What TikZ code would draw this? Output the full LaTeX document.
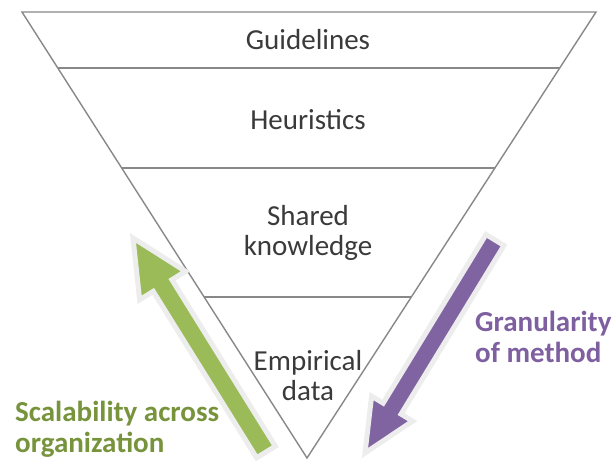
\documentclass[tikz,border=0pt]{standalone}
\usepackage{fontspec}
\setmainfont{Carlito}
\usetikzlibrary{calc}
\definecolor{edgegray}{HTML}{888888}
\definecolor{txtgray}{HTML}{3A3A3A}
\definecolor{arrgreen}{HTML}{9BBB59}
\definecolor{txtgreen}{HTML}{77933C}
\definecolor{arrpurple}{HTML}{8064A2}
\definecolor{txtpurple}{HTML}{7E5FA0}
\tikzset{
  layer/.style={draw=edgegray, line width=1.4pt},
  lbl/.style={text=txtgray, font=\fontsize{29}{30}\selectfont, inner sep=0pt, align=center},
  sidelbl/.style={font=\bfseries\fontsize{29}{31}\selectfont, inner sep=0pt, align=left, anchor=base west},
  blockarrow/.style={draw=black!7, line width=5pt, line join=miter},
}
\begin{document}
\begin{tikzpicture}[x=1pt,y=-1pt]
\useasboundingbox (0,0) rectangle (615,465);
\fill[white] (0,0) rectangle (615,465);
% triangle
\coordinate (TL) at (22,12);
\coordinate (TR) at (596,12);
\coordinate (AP) at (307,458);
\draw[layer, line join=miter] (TL) -- (TR) -- (AP) -- cycle;
\draw[layer] ($(TL)!0.1256!(AP)$) -- ($(TR)!0.1256!(AP)$);
\draw[layer] ($(TL)!0.3498!(AP)$) -- ($(TR)!0.3498!(AP)$);
\draw[layer] ($(TL)!0.639!(AP)$) -- ($(TR)!0.639!(AP)$);
% labels
\node[lbl] (guid) at (308,40) {Guidelines};
\node[lbl] (heur) at (308,120) {Heuristics};
\node[lbl, anchor=base] (shared) at (308,255) {Shared\\knowledge};
\node[lbl, anchor=base] (emp) at (308,400) {Empirical\\data};
% green arrow
\coordinate (gT) at (266,452);
\coordinate (gP) at (133,238);
\coordinate (gB) at ($(gP)!56pt!(gT)$);
\path[blockarrow, fill=arrgreen]
  ($(gT)!11pt!90:(gP)$) -- ($(gB)!11pt!90:(gP)$) -- ($(gB)!27pt!90:(gP)$) -- (gP)
  -- ($(gB)!27pt!-90:(gP)$) -- ($(gB)!11pt!-90:(gP)$) -- ($(gT)!11pt!-90:(gP)$) -- cycle;
% purple arrow
\coordinate (pT) at (495,240);
\coordinate (pP) at (365,453);
\coordinate (pB) at ($(pP)!52pt!(pT)$);
\path[blockarrow, fill=arrpurple]
  ($(pT)!10.5pt!90:(pP)$) -- ($(pB)!10.5pt!90:(pP)$) -- ($(pB)!24pt!90:(pP)$) -- (pP)
  -- ($(pB)!24pt!-90:(pP)$) -- ($(pB)!10.5pt!-90:(pP)$) -- ($(pT)!10.5pt!-90:(pP)$) -- cycle;
% side labels
\node[sidelbl, text=txtgreen] (scal) at (15,452) {Scalability across\\organization};
\node[sidelbl, text=txtpurple] (gran) at (475,362) {Granularity\\of method};
\end{tikzpicture}
\end{document}
